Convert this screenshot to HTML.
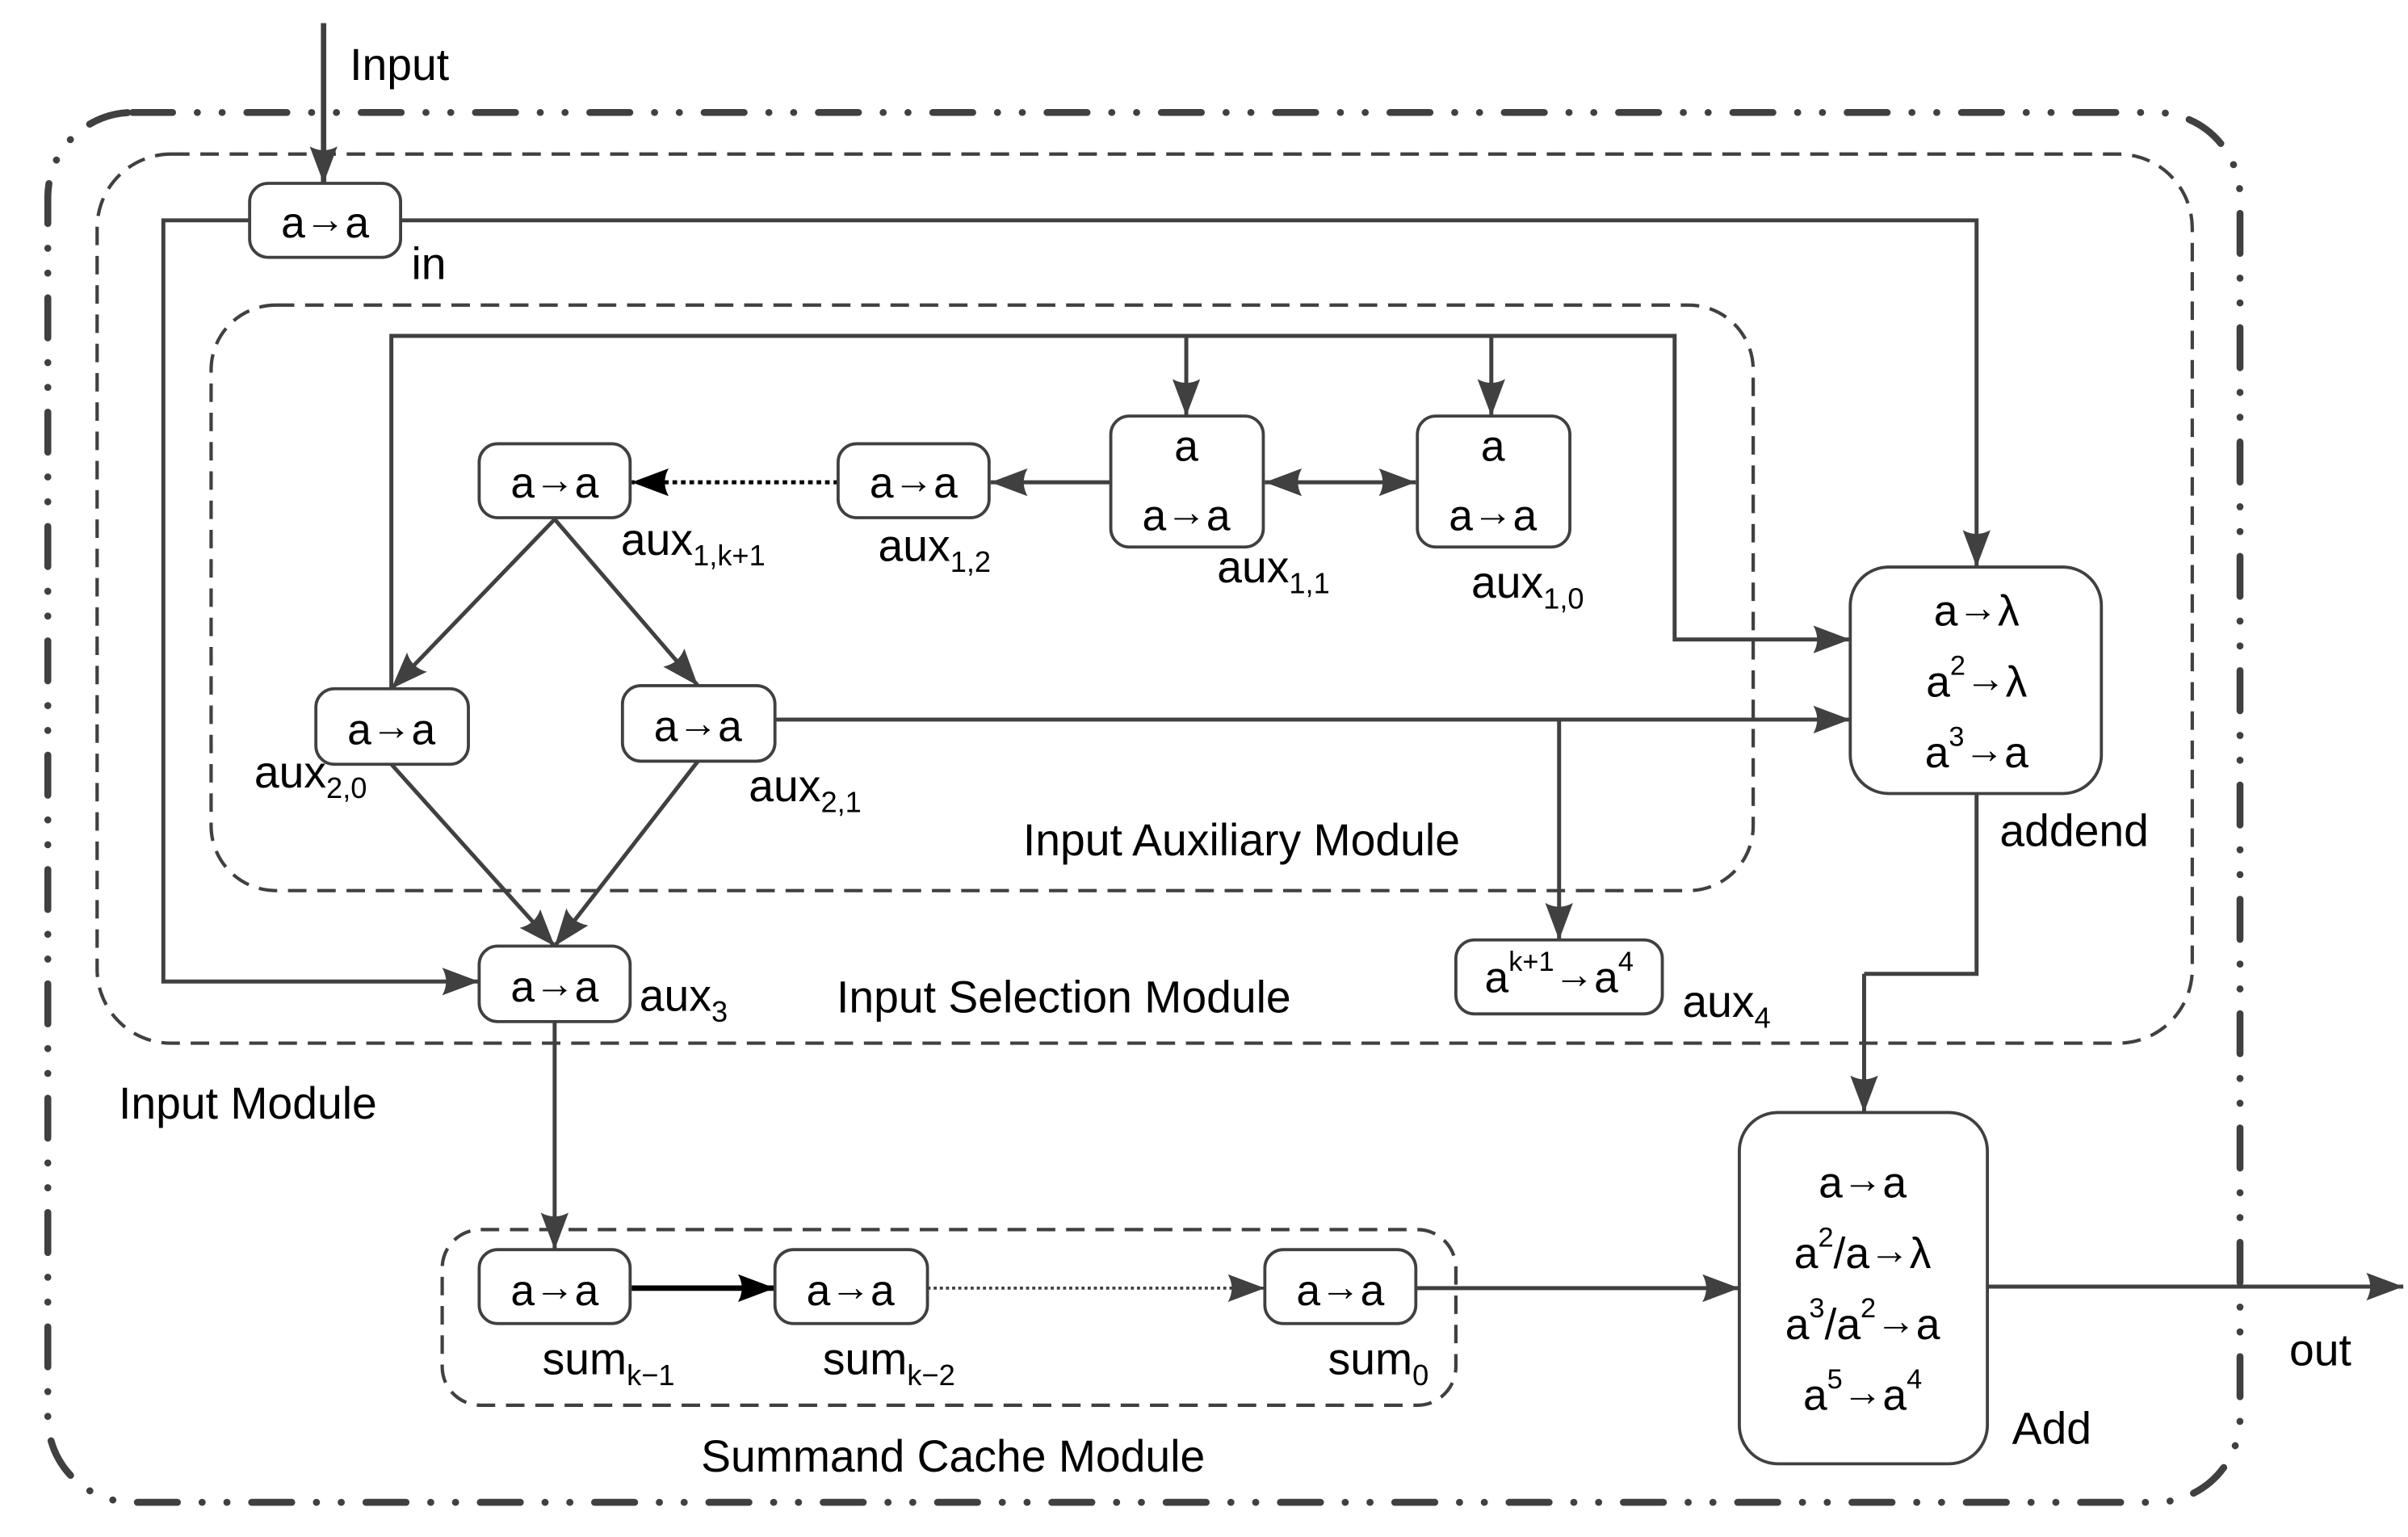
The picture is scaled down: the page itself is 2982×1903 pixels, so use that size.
<!DOCTYPE html>
<html><head><meta charset="utf-8"><style>
html,body{margin:0;padding:0;background:#fff;}
svg{display:block;}
text{font-family:"Liberation Sans","DejaVu Sans",sans-serif;fill:#000;}
</style></head><body>
<svg width="2982" height="1903" viewBox="0 0 1563 997.5" xmlns="http://www.w3.org/2000/svg">
<defs>
<marker id="ar" markerUnits="userSpaceOnUse" markerWidth="26" markerHeight="20" refX="24" refY="10" orient="auto">
<path d="M0,1 L24,10 L0,19 Q5,10 0,1 Z" fill="#404040"/>
</marker>
<marker id="arb" markerUnits="userSpaceOnUse" markerWidth="26" markerHeight="20" refX="24" refY="10" orient="auto">
<path d="M0,1 L24,10 L0,19 Q5,10 0,1 Z" fill="#000"/>
</marker>
<marker id="ars" markerUnits="userSpaceOnUse" markerWidth="26" markerHeight="20" refX="24" refY="10" orient="auto-start-reverse">
<path d="M0,1 L24,10 L0,19 Q5,10 0,1 Z" fill="#404040"/>
</marker>
</defs>

<rect x="31" y="73" width="1423" height="902" rx="55" fill="none" stroke="#404040" stroke-width="4.5" stroke-linecap="round" stroke-dasharray="26 16 0.1 16 0.1 16"/>
<rect x="63" y="100" width="1360" height="577" rx="48" fill="none" stroke="#404040" stroke-width="2.2" stroke-dasharray="12 7"/>
<rect x="137" y="198" width="1001" height="380" rx="42" fill="none" stroke="#404040" stroke-width="2.2" stroke-dasharray="12 7"/>
<rect x="287" y="798" width="658" height="114" rx="25" fill="none" stroke="#404040" stroke-width="2.2" stroke-dasharray="12 7"/>

<g fill="none" stroke="#404040" stroke-width="2.6">
<line x1="210" y1="15" x2="210" y2="119" stroke-width="3.5" marker-end="url(#ar)"/>
<polyline points="260,143 1283,143 1283,368" marker-end="url(#ar)"/>
<polyline points="162,143 106,143 106,637 311,637" marker-end="url(#ar)"/>
<polyline points="254,447 254,218 1087,218 1087,415 1201,415" marker-end="url(#ar)"/>
<line x1="770" y1="218" x2="770" y2="270" marker-end="url(#ar)"/>
<line x1="968" y1="218" x2="968" y2="270" marker-end="url(#ar)"/>
<line x1="821" y1="313" x2="919" y2="313" marker-start="url(#ars)" marker-end="url(#ar)"/>
<line x1="721" y1="313" x2="643" y2="313" marker-end="url(#ar)"/>
<line x1="544" y1="313" x2="410" y2="313" stroke="#000" stroke-dasharray="3 2.5" marker-end="url(#arb)"/>
<line x1="360" y1="337" x2="254" y2="447" marker-end="url(#ar)"/>
<line x1="360" y1="337" x2="453" y2="445" marker-end="url(#ar)"/>
<line x1="254" y1="496" x2="360" y2="614" marker-end="url(#ar)"/>
<line x1="453" y1="494" x2="360" y2="614" marker-end="url(#ar)"/>
<line x1="503" y1="467" x2="1201" y2="467" marker-end="url(#ar)"/>
<line x1="1012" y1="467" x2="1012" y2="610" marker-end="url(#ar)"/>
<polyline points="1283,515 1283,632 1210,632"/>
<line x1="1210" y1="632" x2="1210" y2="722" marker-end="url(#ar)"/>
<line x1="360" y1="663" x2="360" y2="811" marker-end="url(#ar)"/>
<line x1="410" y1="836" x2="503" y2="836" stroke="#000" stroke-width="3.5" marker-end="url(#arb)"/>
<line x1="602" y1="836" x2="821" y2="836" stroke-dasharray="2 2" stroke-width="2" marker-end="url(#ar)"/>
<line x1="919" y1="836" x2="1129" y2="836" marker-end="url(#ar)"/>
<line x1="1290" y1="835" x2="1560" y2="835" marker-end="url(#ar)"/>
</g>

<g fill="#fff" stroke="#404040" stroke-width="2">
<rect x="162" y="119" width="98" height="48" rx="12"/>
<rect x="311" y="288" width="98" height="48" rx="12"/>
<rect x="544" y="288" width="98" height="48" rx="12"/>
<rect x="721" y="270" width="99" height="85" rx="12"/>
<rect x="920" y="270" width="99" height="85" rx="12"/>
<rect x="1201" y="368" width="163" height="147" rx="25"/>
<rect x="205" y="447" width="99" height="49" rx="12"/>
<rect x="404" y="445" width="99" height="49" rx="12"/>
<rect x="311" y="614" width="98" height="49" rx="12"/>
<rect x="945" y="610" width="134" height="48" rx="12"/>
<rect x="311" y="811" width="98" height="48" rx="12"/>
<rect x="503" y="811" width="99" height="48" rx="12"/>
<rect x="821" y="811" width="98" height="48" rx="12"/>
<rect x="1129" y="722" width="161" height="228" rx="25"/>
</g>

<g font-size="28">
<text x="211" y="154" text-anchor="middle">a<tspan font-size="26" dy="-3">→</tspan><tspan dy="3">a</tspan></text>
<text x="360" y="323" text-anchor="middle">a<tspan font-size="26" dy="-3">→</tspan><tspan dy="3">a</tspan></text>
<text x="593" y="323" text-anchor="middle">a<tspan font-size="26" dy="-3">→</tspan><tspan dy="3">a</tspan></text>
<text x="770" y="299" text-anchor="middle">a</text>
<text x="770" y="344" text-anchor="middle">a<tspan font-size="26" dy="-3">→</tspan><tspan dy="3">a</tspan></text>
<text x="969" y="299" text-anchor="middle">a</text>
<text x="969" y="344" text-anchor="middle">a<tspan font-size="26" dy="-3">→</tspan><tspan dy="3">a</tspan></text>
<text x="254" y="483" text-anchor="middle">a<tspan font-size="26" dy="-3">→</tspan><tspan dy="3">a</tspan></text>
<text x="453" y="481" text-anchor="middle">a<tspan font-size="26" dy="-3">→</tspan><tspan dy="3">a</tspan></text>
<text x="360" y="650" text-anchor="middle">a<tspan font-size="26" dy="-3">→</tspan><tspan dy="3">a</tspan></text>
<text x="360" y="847" text-anchor="middle">a<tspan font-size="26" dy="-3">→</tspan><tspan dy="3">a</tspan></text>
<text x="552" y="847" text-anchor="middle">a<tspan font-size="26" dy="-3">→</tspan><tspan dy="3">a</tspan></text>
<text x="870" y="847" text-anchor="middle">a<tspan font-size="26" dy="-3">→</tspan><tspan dy="3">a</tspan></text>
<text x="1012" y="644" text-anchor="middle">a<tspan font-size="18" dy="-14">k+1</tspan><tspan font-size="26" dy="11">→</tspan><tspan dy="3">a</tspan><tspan font-size="18" dy="-14">4</tspan></text>
<text x="1283" y="406" text-anchor="middle">a<tspan font-size="26" dy="-3">→</tspan><tspan dy="3">λ</tspan></text>
<text x="1283" y="452" text-anchor="middle">a<tspan font-size="18" dy="-14">2</tspan><tspan font-size="26" dy="11">→</tspan><tspan dy="3">λ</tspan></text>
<text x="1283" y="498" text-anchor="middle">a<tspan font-size="18" dy="-14">3</tspan><tspan font-size="26" dy="11">→</tspan><tspan dy="3">a</tspan></text>
<text x="1209" y="777" text-anchor="middle">a<tspan font-size="26" dy="-3">→</tspan><tspan dy="3">a</tspan></text>
<text x="1209" y="823" text-anchor="middle">a<tspan font-size="18" dy="-14">2</tspan><tspan dy="14">/a</tspan><tspan font-size="26" dy="-3">→</tspan><tspan dy="3">λ</tspan></text>
<text x="1209" y="869" text-anchor="middle">a<tspan font-size="18" dy="-14">3</tspan><tspan dy="14">/a</tspan><tspan font-size="18" dy="-14">2</tspan><tspan font-size="26" dy="11">→</tspan><tspan dy="3">a</tspan></text>
<text x="1209" y="915" text-anchor="middle">a<tspan font-size="18" dy="-14">5</tspan><tspan font-size="26" dy="11">→</tspan><tspan dy="3">a</tspan><tspan font-size="18" dy="-14">4</tspan></text>
</g>

<g font-size="29">
<text x="227" y="52">Input</text>
<text x="267" y="181">in</text>
<text x="403" y="360">aux<tspan font-size="19" dy="7">1,k+1</tspan></text>
<text x="570" y="364">aux<tspan font-size="19" dy="7">1,2</tspan></text>
<text x="790" y="378">aux<tspan font-size="19" dy="7">1,1</tspan></text>
<text x="955" y="388">aux<tspan font-size="19" dy="7">1,0</tspan></text>
<text x="165" y="511">aux<tspan font-size="19" dy="7">2,0</tspan></text>
<text x="486" y="520">aux<tspan font-size="19" dy="7">2,1</tspan></text>
<text x="415" y="656">aux<tspan font-size="19" dy="7">3</tspan></text>
<text x="1092" y="660">aux<tspan font-size="19" dy="7">4</tspan></text>
<text x="1298" y="549">addend</text>
<text x="664" y="555">Input Auxiliary Module</text>
<text x="543" y="657">Input Selection Module</text>
<text x="77" y="726">Input Module</text>
<text x="455" y="955">Summand Cache Module</text>
<text x="352" y="892">sum<tspan font-size="19" dy="7">k−1</tspan></text>
<text x="534" y="892">sum<tspan font-size="19" dy="7">k−2</tspan></text>
<text x="862" y="892">sum<tspan font-size="19" dy="7">0</tspan></text>
<text x="1306" y="937">Add</text>
<text x="1486" y="886">out</text>
</g>
</svg>
</body></html>
